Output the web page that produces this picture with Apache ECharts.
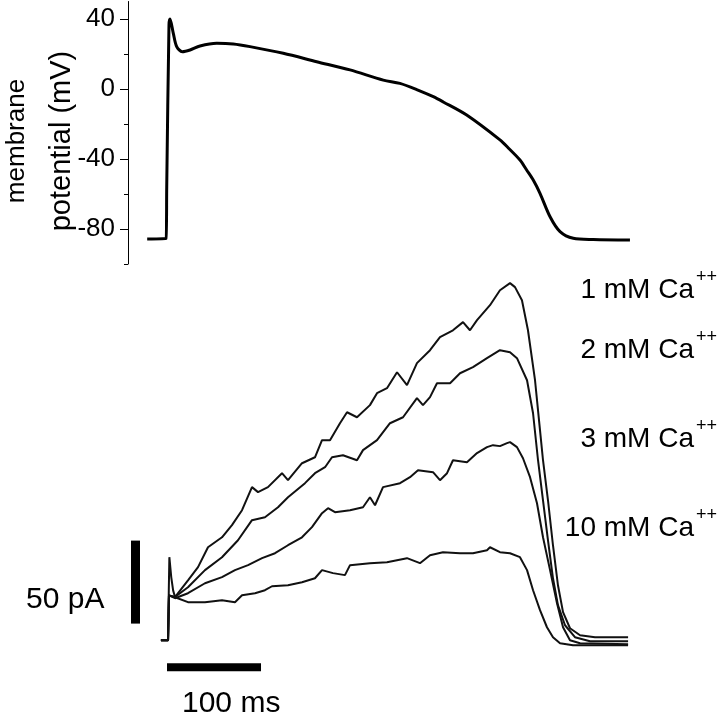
<!DOCTYPE html>
<html><head><meta charset="utf-8">
<script src="https://cdn.jsdelivr.net/npm/echarts@6/dist/echarts.min.js"></script>
<style>html,body{margin:0;padding:0;background:#fff}#c{width:720px;height:718px}</style>
</head><body><div id="c"></div>
<script>
// Action potential: [time ms, membrane potential mV]
const apTrace = [[-24.6,-85.7],[-4.6,-85.5],[-3.8,-56],[-1.4,36.6],[-0.3,40],[3.2,31.8],[6.8,24.2],[12.8,21.3],[21,22.3],[31.6,24.6],[49.4,26.1],[67,25.7],[84.8,24.2],[120.2,20.4],[155.7,15.6],[191.2,10.9],[226.6,5.1],[244.3,3.2],[262.1,-0.3],[279.8,-4.4],[290.4,-7.4],[315.3,-14.9],[350.7,-29.1],[359.6,-33.7],[372,-40.6],[379.1,-46.3],[386.1,-52],[393.3,-59.6],[404,-73],[414.6,-81.5],[428.7,-85.3],[450,-86],[489,-86.3]];

// Currents: [time ms, current pA]
const ca1mM = [[-10,0],[-2.4,0],[-1.6,30],[-1.0,50],[1,38],[3,30],[5,26],[18.8,36.1],[29.5,44],[40.1,56],[55,62],[65.6,69.3],[76.3,78.3],[86.9,92.2],[93.3,89.2],[103.9,92.2],[118.8,100.6],[125.2,96.4],[140.1,106.6],[153.9,110.2],[161.4,120.5],[169.9,120.5],[180.5,130.7],[188,137.3],[198.6,134.3],[212.4,141.6],[219.9,148.8],[230.5,151.8],[241.2,161.4],[251.8,153.6],[262.4,166.9],[276.3,174.7],[286.9,182.5],[300.7,186.7],[311.4,191.6],[318.8,186.7],[326.3,192.8],[340.1,201.8],[350.7,210.8],[361.4,215.1],[366.7,212.7],[374.1,204.8],[380.5,186.7],[388,156.6],[393.3,126.5],[396.5,108.4],[401.8,84.3],[407.1,57.2],[412.4,33.1],[417.8,16.9],[425.2,7.2],[435.9,3],[451.8,1.8],[487,1.8]];
const ca2mM = [[-10,0],[-2.4,0],[-1.4,27],[5,26],[18.8,31.9],[36.9,42.2],[55,50],[72,60.2],[86.9,72.3],[100.7,74.1],[114.6,80.1],[125.2,86.1],[143.3,94.6],[153.9,100.6],[164.6,104.2],[172,110.2],[183.7,111.4],[198.6,108.4],[205,114.5],[219.9,120.5],[233.7,130.7],[247.6,134.3],[262.4,145.8],[268.8,141.6],[276.3,146.4],[283.7,154.8],[297.6,154.8],[308.2,160.8],[322,164.5],[336.9,169.9],[350.7,174.7],[361.4,173.5],[368.8,169.9],[379.5,156.6],[385.9,136.7],[391.2,108.4],[396.5,84.3],[401.8,60.2],[407.1,37.3],[412.4,21.1],[419.9,9],[430.5,1.8],[446.5,-0.6],[487,-0.6]];
const ca3mM = [[-10,0],[-2.4,0],[-1.4,27],[5,25.3],[18.8,28.3],[36.9,34.3],[55,38],[68.8,42.2],[82.7,45.2],[97.6,49.4],[111.4,52.4],[125.2,57.2],[140.1,62],[150.7,68.1],[161.4,76.5],[167.8,79.5],[175.2,77.1],[191.2,78.3],[205,80.1],[212.4,86.1],[217.8,81.3],[226.3,92.2],[244.4,94.6],[255,98.2],[263.5,102.4],[279.5,101.2],[286.9,96.4],[294.4,100.6],[300.7,108.4],[315.6,107.2],[326.3,112.7],[336.9,116.3],[343.3,117.5],[350.7,116.9],[358.2,118.7],[361.4,119.3],[368.8,116.3],[375.2,109.6],[382.7,98.2],[390.1,82.5],[396.5,62],[404,42.2],[411.4,22.3],[417.8,7.8],[425.2,0],[435.9,-1.8],[487,-2.4]];
const ca10mM = [[-10,0],[-2.4,0],[-1.4,27],[5,25.9],[18.8,22.9],[36.9,22.9],[55,24.1],[68.8,22.9],[76.3,27.1],[90.1,28.3],[100.7,30.1],[108.2,32.5],[125.2,33.1],[140.1,34.9],[153.9,37.3],[161.4,42.2],[173.1,40.4],[185.8,39.2],[191.2,45.2],[212.4,46.4],[230.5,47],[251.8,49.4],[265.6,46.4],[276.3,51.2],[290.1,53],[308.2,52.4],[322,52.4],[336.9,54.2],[340.1,56],[350.7,53],[361.4,52.4],[372,50],[379.5,42.2],[385.9,30.1],[393.3,18.1],[400.7,7.8],[407.1,1.8],[414.6,-1.8],[428.4,-3],[487,-3]];

// Scale bars (time ms, current pA)
const timeBar = [[-3.5,-16.3],[96.5,-16.3]];     // 100 ms
const currentBar = [[-37,10],[-37,60]];          // 50 pA
const timeBarLabel = '100 ms';
const currentBarLabel = '50 pA';

const traceNames = ['1 mM Ca','2 mM Ca','3 mM Ca','10 mM Ca'];
const traceSup = '++';
const yAxisTitle = ['membrane','potential (mV)'];

const FONT = '"Liberation Sans", Arial, Helvetica, sans-serif';
const chart = echarts.init(document.getElementById('c'), null, {renderer:'canvas'});

const gridX = {left:128, width:512.3};
const xCommon = {type:'value', min:-45, max:500, show:false};

const labelY = [290, 350, 439, 528];
const graphic = [];
traceNames.forEach((n,i)=>{
  graphic.push({type:'text', x:694, y:labelY[i], style:{text:n, fill:'#000', font:'28px '+FONT, textAlign:'right', textVerticalAlign:'middle', verticalAlign:'middle'}});
  graphic.push({type:'text', x:696, y:labelY[i]-13, style:{text:traceSup, fill:'#000', font:'18px '+FONT, textAlign:'left', textVerticalAlign:'middle', verticalAlign:'middle'}});
});
graphic.push({type:'text', x:17, y:141, rotation:Math.PI/2, style:{text:yAxisTitle[0], fill:'#000', font:'26px '+FONT, textAlign:'center', textVerticalAlign:'middle', verticalAlign:'middle'}});
graphic.push({type:'text', x:62, y:141, rotation:Math.PI/2, style:{text:yAxisTitle[1], fill:'#000', font:'29px '+FONT, textAlign:'center', textVerticalAlign:'middle', verticalAlign:'middle'}});
graphic.push({type:'text', x:26, y:600, style:{text:currentBarLabel, fill:'#000', font:'30px '+FONT, textAlign:'left', textVerticalAlign:'middle', verticalAlign:'middle'}});
graphic.push({type:'text', x:182, y:704, style:{text:timeBarLabel, fill:'#000', font:'30px '+FONT, textAlign:'left', textVerticalAlign:'middle', verticalAlign:'middle'}});

const traceSeries = [ca1mM, ca2mM, ca3mM, ca10mM].map((d,i)=>({
  type:'line', name:traceNames[i], xAxisIndex:3, yAxisIndex:3, data:d, showSymbol:false, symbol:'none',
  lineStyle:{color:'#111', width:2}, clip:false, z:3
}));

chart.setOption({
  animation:false,
  backgroundColor:'#fff',
  graphic: graphic,
  grid:[
    {left:gridX.left, width:gridX.width, top:1.5, height:262.5},
    {left:gridX.left, width:gridX.width, top:19, height:210},
    {left:gridX.left, width:gridX.width, top:19, height:245},
    {left:gridX.left, width:gridX.width, top:270, height:403.4}
  ],
  xAxis:[0,1,2,3].map(i=>Object.assign({gridIndex:i}, xCommon)),
  yAxis:[
    {type:'value', gridIndex:0, min:-100, max:50,
     axisLine:{show:true, onZero:false, lineStyle:{color:'#000', width:1}},
     axisTick:{show:false}, axisLabel:{show:false}, splitLine:{show:false}},
    {type:'value', gridIndex:1, min:-80, max:40, interval:40,
     axisLine:{show:false, onZero:false},
     axisTick:{show:true, inside:false, length:8, lineStyle:{color:'#000', width:1}},
     axisLabel:{show:true, color:'#000', fontSize:26, fontFamily:FONT, margin:13},
     splitLine:{show:false}},
    {type:'value', gridIndex:2, min:-100, max:40, interval:20,
     axisLine:{show:false, onZero:false},
     axisTick:{show:true, inside:false, length:4, lineStyle:{color:'#000', width:1}},
     axisLabel:{show:false}, splitLine:{show:false}},
    {type:'value', gridIndex:3, min:-20, max:223, show:false, axisLine:{onZero:false}}
  ],
  series:[
    {type:'line', name:'AP', xAxisIndex:0, yAxisIndex:0, data:apTrace, showSymbol:false, symbol:'none', smooth:0.3,
     lineStyle:{color:'#000', width:3}, z:3},
    ...traceSeries,
    {type:'line', xAxisIndex:3, yAxisIndex:3, data:timeBar, showSymbol:false, symbol:'none', clip:false,
     lineStyle:{color:'#000', width:8, cap:'butt'}},
    {type:'line', xAxisIndex:3, yAxisIndex:3, data:currentBar, showSymbol:false, symbol:'none', clip:false,
     lineStyle:{color:'#000', width:9, cap:'butt'}}
  ]
});
</script></body></html>
